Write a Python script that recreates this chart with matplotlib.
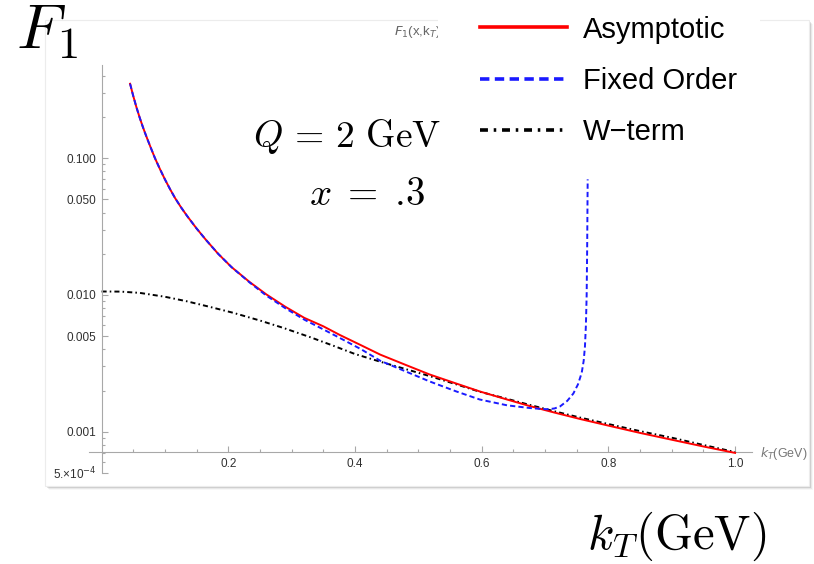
import matplotlib
matplotlib.use('Agg')
import matplotlib.pyplot as plt
from matplotlib.lines import Line2D
from matplotlib.patches import Rectangle
from matplotlib.ticker import FixedLocator, FixedFormatter, NullFormatter

# values (k_T in GeV, F_1 on a log scale)
kt_asym = [0.045, 0.05, 0.055, 0.06, 0.065, 0.07, 0.0765, 0.0843, 0.092, 0.1,
           0.108, 0.1159, 0.125, 0.135, 0.15, 0.165, 0.184, 0.205, 0.234, 0.26,
           0.29, 0.32, 0.35, 0.376, 0.41, 0.44, 0.48, 0.518, 0.56, 0.597,
           0.64, 0.676, 0.715, 0.755, 0.803, 0.85, 0.902, 0.95, 1.0]
f_asym = [0.350, 0.285, 0.236, 0.199, 0.170, 0.147, 0.123, 0.100, 0.0835, 0.0700,
          0.0595, 0.0512, 0.0440, 0.0378, 0.0306, 0.0252, 0.0200, 0.0160, 0.0124, 0.0101,
          0.0082, 0.0068, 0.0059, 0.0051, 0.00428, 0.00366, 0.00308, 0.00262, 0.00225, 0.00197,
          0.00172, 0.00154, 0.00138, 0.00124, 0.00110, 0.00098, 0.00087, 0.00078, 0.0007]

kt_fixed = [0.045, 0.05, 0.055, 0.06, 0.065, 0.07, 0.0765, 0.0843, 0.092, 0.1,
            0.108, 0.1159, 0.125, 0.135, 0.15, 0.165, 0.184, 0.205, 0.234, 0.26,
            0.29, 0.32, 0.35, 0.376, 0.41, 0.44, 0.48, 0.518, 0.56, 0.597,
            0.64, 0.676, 0.692, 0.705, 0.715, 0.7236, 0.735, 0.7446, 0.752, 0.7579,
            0.761, 0.763, 0.7645, 0.7657, 0.7665, 0.7673]
f_fixed = [0.350, 0.285, 0.236, 0.199, 0.170, 0.147, 0.123, 0.100, 0.0835, 0.0700,
           0.0595, 0.0512, 0.0440, 0.0378, 0.0306, 0.0252, 0.0200, 0.0160, 0.0123, 0.0099,
           0.0080, 0.0066, 0.0056, 0.00485, 0.0040, 0.00330, 0.00276, 0.00233, 0.00197, 0.00172,
           0.00156, 0.00149, 0.00147, 0.00146, 0.00148, 0.00153, 0.00168, 0.00190, 0.00222, 0.0027,
           0.0033, 0.0042, 0.0060, 0.0100, 0.022, 0.070]

kt_w = [0.0, 0.03, 0.0606, 0.1, 0.134, 0.17, 0.208, 0.25, 0.287, 0.33,
        0.366, 0.40, 0.44, 0.48, 0.518, 0.56, 0.597, 0.64, 0.676, 0.715,
        0.755, 0.803, 0.85, 0.902, 0.95, 1.0]
f_w = [0.0106, 0.01058, 0.01035, 0.0097, 0.0090, 0.0082, 0.0074, 0.0065, 0.00574, 0.0049,
       0.00425, 0.0037, 0.00325, 0.00287, 0.00255, 0.00222, 0.00196, 0.00174, 0.00157, 0.00141,
       0.00127, 0.00113, 0.00101, 0.0009, 0.0008, 0.00071]

series_names = ['Asymptotic', 'Fixed Order', 'W\u2212term']

y_major = [5e-4, 1e-3, 5e-3, 1e-2, 5e-2, 1e-1]
y_major_labels = ['5.\u00d710$^{-4}$', '0.001', '0.005', '0.010', '0.050', '0.100']
x_major = [0.2, 0.4, 0.6, 0.8, 1.0]
x_major_labels = ['0.2', '0.4', '0.6', '0.8', '1.0']

W, H = 814, 564


def fx(px):
    return px / W


def fy(py):
    return 1 - py / H


fig = plt.figure(figsize=(W / 100, H / 100), dpi=100)

# white panel with a soft drop shadow
p_l, p_t, p_r, p_b = 45, 20, 809, 486
for i, a in enumerate([0.18, 0.11, 0.06, 0.03]):
    fig.patches.append(Rectangle((fx(p_l + 1 + i), fy(p_b + 1 + i)),
                                 (p_r - p_l) / W, (p_b - p_t) / H,
                                 transform=fig.transFigure, facecolor='black',
                                 edgecolor='none', alpha=a, zorder=-3 + i * 0.1))
fig.patches.append(Rectangle((fx(p_l), fy(p_b)), (p_r - p_l) / W, (p_b - p_t) / H,
                             transform=fig.transFigure, facecolor='white',
                             edgecolor='#ececec', lw=0.8, zorder=-2))

ax_l, ax_r, ax_t, ax_b = 88.9, 752.2, 65.0, 472.9
ax = fig.add_axes([fx(ax_l), fy(ax_b), (ax_r - ax_l) / W, (ax_b - ax_t) / H])
ax.set_facecolor('none')
ax.set_yscale('log')
ax.set_xlim(-0.02, 1.027)
ax.set_ylim(5e-4, 0.48)

ax.plot(kt_asym, f_asym, color='#ff0000', lw=1.4, zorder=3)
ax.plot(kt_fixed, f_fixed, color='#1a1aff', lw=1.4, dashes=(2.7, 1.6), zorder=4)
ax.plot(kt_w, f_w, color='black', lw=1.4, dashes=(2.6, 1.6, 0.8, 1.6), zorder=2)

axis_col = '#a8a8a8'
for s in ['top', 'right']:
    ax.spines[s].set_visible(False)
ax.spines['left'].set_position(('data', 0))
ax.spines['bottom'].set_position(('data', 7.08e-4))
for s in ['left', 'bottom']:
    ax.spines[s].set_color(axis_col)
    ax.spines[s].set_linewidth(0.8)

ax.yaxis.set_major_locator(FixedLocator(y_major))
ax.yaxis.set_major_formatter(FixedFormatter(y_major_labels))
y_minor = [k * 10.0 ** e for e in (-4, -3, -2, -1) for k in (2, 3, 4, 6, 7, 8, 9)]
ax.yaxis.set_minor_locator(FixedLocator([v for v in y_minor if 5e-4 < v < 0.48]))
ax.yaxis.set_minor_formatter(NullFormatter())
ax.xaxis.set_major_locator(FixedLocator(x_major))
ax.xaxis.set_major_formatter(FixedFormatter(x_major_labels))
ax.xaxis.set_minor_locator(FixedLocator([0.05 * i for i in range(1, 20) if i % 4]))

ax.tick_params(which='both', direction='in', color=axis_col, width=0.8,
               labelsize=8.5, labelcolor='#303030')
ax.tick_params(which='major', length=4.5)
ax.tick_params(which='minor', length=2.5)
ax.tick_params(axis='y', pad=3.5)
ax.tick_params(axis='x', pad=4.5)
for t in ax.get_xticklabels() + ax.get_yticklabels():
    t.set_family('Liberation Sans')

fig.text(fx(760), fy(453), r'$k_T$(GeV)', fontsize=9, color='#777777',
         va='center', family='Liberation Sans')
fig.text(fx(394), fy(32), r'$F_1$(x,k$_T$)', fontsize=9.5, color='#666666',
         va='center', family='Liberation Sans', zorder=3)

# white block behind the legend, it hides part of the panel
fig.patches.append(Rectangle((fx(438), fy(150)), (760 - 438) / W, 150 / H,
                             transform=fig.transFigure, facecolor='white',
                             edgecolor='none', zorder=4))

handles = [Line2D([], [], color='#ff0000', lw=2.6),
           Line2D([], [], color='#1a1aff', lw=2.6, dashes=(2.6, 1.5)),
           Line2D([], [], color='black', lw=2.6, dashes=(2.2, 1.6, 0.7, 1.6))]
leg = fig.legend(handles, series_names, loc='upper left',
                 bbox_to_anchor=(fx(462), fy(-2)), frameon=False, borderpad=0.1,
                 prop={'family': 'Liberation Sans', 'size': 21},
                 handlelength=3.0, handletextpad=0.55, labelspacing=0.8)
leg.set_zorder(5)

fig.text(fx(16), fy(48), r'$F_1$', fontsize=46, math_fontfamily='cm',
         va='baseline', zorder=6)
fig.text(fx(347), fy(147), r'$Q\,=\,2\ \mathrm{GeV}$', fontsize=27,
         math_fontfamily='cm', ha='center', va='baseline', zorder=6)
fig.text(fx(367), fy(205), r'$x\;=\;.\!3$', fontsize=28,
         math_fontfamily='cm', ha='center', va='baseline', zorder=6)
fig.text(fx(677), fy(549), r'$k_T(\mathrm{GeV})$', fontsize=35,
         math_fontfamily='cm', ha='center', va='baseline', zorder=6)

fig.savefig('out.png', dpi=100)
